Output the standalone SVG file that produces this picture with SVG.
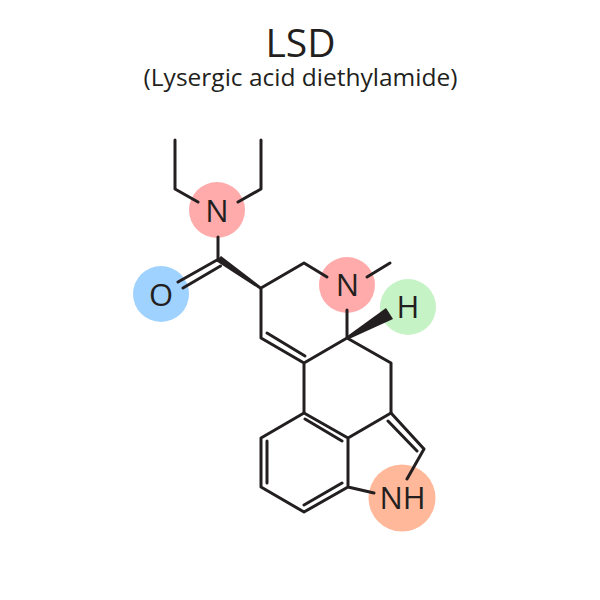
<svg xmlns="http://www.w3.org/2000/svg" width="600" height="600" viewBox="0 0 600 600">
<style>
.b{fill:none;stroke:#231f20;stroke-width:3;stroke-linecap:round;stroke-linejoin:round}
.w{fill:#231f20}
text{font-family:"Open Sans","Noto Sans",sans-serif;fill:#231f20;text-anchor:middle}
.a{font-size:31px}
</style>
<rect width="600" height="600" fill="#fff"/>
<text x="300.500" y="57" font-size="39">LSD</text>
<text x="300.500" y="86" font-size="24.500">(Lysergic acid diethylamide)</text>
<g id="node-n1"><circle cx="217" cy="210" r="28" fill="#ffabab"/><text class="a" x="217" y="222">N</text></g>
<g id="node-o"><circle cx="161" cy="294" r="28" fill="#a0d2ff"/><text class="a" x="161" y="305.500">O</text></g>
<g id="node-n2"><circle cx="347" cy="285" r="28" fill="#ffabab"/><text class="a" x="347.500" y="296">N</text></g>
<g id="node-h"><circle cx="408" cy="307" r="28" fill="#c5f3c5"/><text class="a" x="408" y="317.500">H</text></g>
<g id="node-nh"><circle cx="402" cy="498" r="33.500" fill="#ffb899"/><text class="a" x="402.500" y="508.500">NH</text></g>
<g id="connectors">
<path class="b" d="M175 140V189L198 202M261 140V189L238 202M218 237V259M217 260L178 282M220.500 266L183 288"/>
<polygon class="w" points="216,261 221,256 261.500,287 260,289.500"/>
<path class="b" d="M261 288L304 263L327 277M367 277L390 263M347 310V338M261 288V338L304 363L347 338L391 363V413M267 333L305 356M304 363V413"/>
<polygon class="w" points="346,337 386,308 393,319 348,339.500"/>
<path class="b" d="M304 413L348 438V487L304 512L261 487V438L304 413M305 419L342 441M342 483L304 505M267 483V441M348 438L391 413L424 449L407 479M388 421L417 451M348 487L374 493"/>
</g>
</svg>
